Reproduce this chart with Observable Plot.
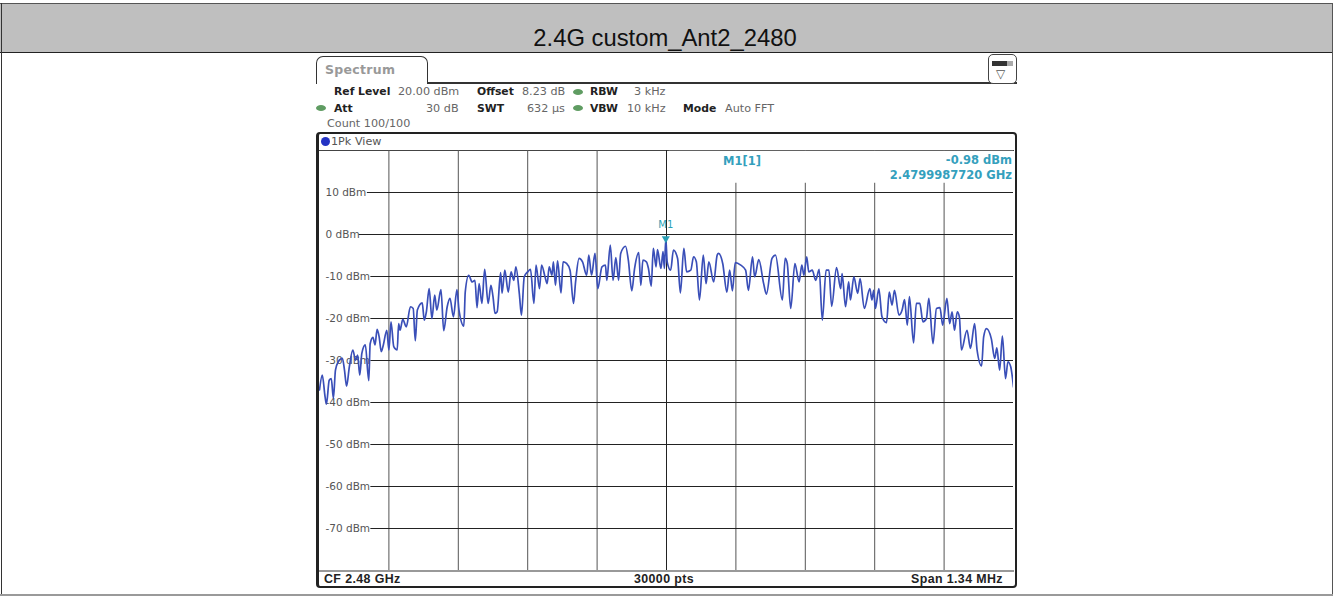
<!DOCTYPE html>
<html><head><meta charset="utf-8">
<script src="https://cdn.jsdelivr.net/npm/d3@7"></script>
<script src="https://cdn.jsdelivr.net/npm/@observablehq/plot@0.6"></script>
<style>
html,body{margin:0;padding:0;background:#fff;overflow:hidden}
#page{position:relative;width:1335px;height:596px;overflow:hidden;font-family:"DejaVu Sans",sans-serif}
#page div{position:absolute;white-space:nowrap;box-sizing:border-box}
#page svg{position:absolute;left:0;top:0;background:transparent}
.t{font-size:11.2px;line-height:14px;color:#666}
.b{font-weight:bold;color:#222;font-size:10.8px}
.dot{width:10px;height:6px;border-radius:50%;background:#5f9c62}
.m{font-size:11.5px;font-weight:bold;line-height:14px;color:#34a0bd}
.f{font-family:"Liberation Sans",sans-serif;font-weight:bold;font-size:12.4px;line-height:14px;color:#222;letter-spacing:.4px}
</style></head>
<body><div id="page"></div>
<script>
// Grid divisions run 0..10 across the 1.34 MHz span; levels are in dBm.
const traceDiv = [0,.04,.08,.10,.14,.17,.20,.23,.27,.33,.36,.39,.43,.48,.52,.55,.58,.61,.66,.71,.73,.77,.80,.83,.86,.89,.92,.97,1.00,1.03,1.07,1.12,1.14,1.16,1.20,1.25,1.31,1.35,1.38,1.41,1.48,1.51,1.54,1.58,1.62,1.66,1.69,1.75,1.79,1.84,1.88,1.93,1.98,2.01,2.08,2.10,2.15,2.20,2.24,2.27,2.30,2.34,2.38,2.43,2.47,2.50,2.53,2.56,2.61,2.63,2.67,2.72,2.76,2.80,2.83,2.88,2.91,2.95,3.00,3.04,3.09,3.12,3.17,3.20,3.25,3.28,3.31,3.35,3.37,3.40,3.43,3.48,3.51,3.56,3.61,3.66,3.69,3.74,3.79,3.85,3.88,3.92,3.97,4.01,4.07,4.12,4.14,4.19,4.23,4.27,4.31,4.34,4.41,4.45,4.50,4.54,4.60,4.63,4.66,4.71,4.74,4.78,4.81,4.85,4.87,4.92,4.95,4.97,4.99,5.01,5.06,5.10,5.16,5.20,5.25,5.29,5.35,5.39,5.43,5.475,5.53,5.57,5.61,5.68,5.73,5.75,5.81,5.87,5.91,5.95,5.99,6.07,6.14,6.18,6.24,6.27,6.33,6.40,6.44,6.52,6.57,6.67,6.71,6.74,6.79,6.85,6.91,6.95,6.98,7.02,7.05,7.10,7.15,7.20,7.245,7.30,7.34,7.38,7.45,7.51,7.53,7.58,7.625,7.65,7.70,7.755,7.79,7.85,7.93,7.96,7.985,8.01,8.06,8.105,8.17,8.21,8.25,8.285,8.35,8.395,8.43,8.47,8.50,8.56,8.60,8.65,8.695,8.745,8.78,8.84,8.89,8.94,8.98,9.04,9.08,9.115,9.15,9.19,9.22,9.25,9.33,9.38,9.44,9.475,9.54,9.57,9.61,9.68,9.73,9.76,9.80,9.84,9.885,9.92,9.96,10];
const traceDb = [-37,-33.5,-38.6,-40.4,-34.7,-34.3,-39,-32.3,-30.3,-29.5,-32.3,-36.1,-31.5,-27.5,-29.9,-28.7,-33.5,-28.3,-26.3,-34.8,-26,-24.5,-26.3,-22.6,-24.4,-27.9,-26.3,-22.8,-27.5,-20.8,-26.7,-27.5,-21.2,-22.8,-20.2,-22,-17.2,-17.6,-25.3,-18,-16.3,-20.4,-18.4,-12.9,-20,-14.4,-18,-13.1,-22.9,-17.2,-15.2,-19.6,-13.1,-18,-21.8,-13.7,-9.7,-11.3,-10.9,-17.4,-11.7,-16.4,-8.3,-16.4,-12.1,-14.8,-18.8,-18.4,-9.1,-14,-8.5,-13.7,-8.9,-10.9,-7.7,-14.2,-19.2,-10.1,-8.9,-8.3,-16.4,-7.3,-12.9,-7.3,-10.1,-11.7,-7.7,-9.7,-6.5,-12.1,-6.3,-13.9,-6.5,-6.9,-8.5,-16.4,-11.3,-5.7,-6.5,-9.7,-4.9,-9.7,-4.5,-12.9,-7.7,-7.3,-10.9,-2.5,-10.9,-5.5,-10.9,-4.5,-2.8,-6.1,-13.4,-8.1,-4.3,-12.1,-6.1,-6.5,-8.1,-12.3,-3.3,-7.7,-3.6,-8.1,-4.1,-8.1,-0.98,-6.5,-8.5,-3.7,-5.7,-13.9,-3.3,-8.9,-8.5,-5.3,-6.5,-15.6,-4.9,-11.7,-6.5,-11.3,-4.9,-4.5,-6.9,-13.7,-8.5,-13.4,-6.7,-7.3,-8.5,-13.3,-5.3,-10.1,-6,-11.7,-14.2,-5.7,-4.9,-15.6,-5.7,-6.9,-17.6,-6.9,-11.3,-7.3,-9.7,-5.3,-8.9,-8.5,-10.9,-8.3,-20.4,-8.5,-8.5,-17.1,-7.9,-12.9,-9.3,-17.2,-11.3,-15.6,-10.1,-14,-10.5,-17.6,-12.9,-15.6,-13.3,-17.6,-12.9,-19.6,-21,-13.7,-16.8,-13.3,-19.2,-18,-15.5,-21.6,-14.8,-25.8,-16.4,-16.4,-20.8,-20,-15.2,-26,-17.6,-17.4,-21.6,-15.2,-21.2,-18.4,-22.8,-18.4,-19.6,-27.5,-22.8,-27.1,-21.2,-27.5,-31.3,-24.4,-22.4,-24.8,-29.5,-27,-32.3,-24.2,-34.3,-30.3,-31.5,-36.3];
const levelTicks = [10,0,-10,-20,-30,-40,-50,-60,-70];
const levelRuleStart = [.69,.57,.74,.74,.74,.74,.74,.74,.74];
const divisionTicks = [1,2,3,4,5,6,7,8,9];
const markerDiv = [4.99];
const markerDb = [-0.98];
const readoutBox = [{x1:5.04,x2:10,y1:12.2,y2:19.8}];
const titleText = "2.4G custom_Ant2_2480";

const page = document.getElementById("page");
function box(css,cls,txt){const d=document.createElement("div");d.style.cssText=css;if(cls)d.className=cls;if(txt)d.textContent=txt;page.appendChild(d);return d;}

// sheet
box("left:0;top:3px;width:1333px;height:50px;background:#bfbfbf;border-top:1.5px solid #555;border-bottom:1.5px solid #222");
box("left:1px;top:3px;width:1px;height:593px;background:#333");
box("left:1332px;top:3px;width:1px;height:593px;background:#555");
box("left:0;top:594px;width:1333px;height:2px;background:#9a9a9a");
box("left:0;width:1330px;top:24px;text-align:center;font:23.8px/28px 'Liberation Sans',sans-serif;color:#111",null,titleText);

// instrument tab
box("left:316px;top:56px;width:112px;height:28px;border:1.5px solid #333;border-bottom:none;border-radius:7px 7px 0 0;background:#fff");
box("left:428px;top:82px;width:589px;height:1.5px;background:#333");
box("left:325px;top:62px;font-size:12.5px;line-height:16px;color:#999;font-weight:bold;letter-spacing:.3px",null,"Spectrum");
box("left:988px;top:54px;width:29px;height:30px;border:1.5px solid #444;border-radius:5px;background:#fff");
box("left:992px;top:61px;width:21px;height:5px;background:linear-gradient(90deg,#333 0 70%,#aaa 70%)");
box("left:996px;top:68px;font-size:12px;line-height:12px;color:#555",null,"▽");

// setting rows
const rows=[
 ["left:334px;top:85px","t b","Ref Level"],["left:398px;top:85px","t","20.00 dBm"],
 ["left:477px;top:85px","t b","Offset"],["left:522px;top:85px","t","8.23 dB"],
 ["left:590px;top:85px","t b","RBW"],["left:634px;top:85px","t","3 kHz"],
 ["left:334px;top:102px","t b","Att"],["left:426px;top:102px","t","30 dB"],
 ["left:477px;top:102px","t b","SWT"],["left:527px;top:102px","t","632 µs"],
 ["left:590px;top:102px","t b","VBW"],["left:627px;top:102px","t","10 kHz"],
 ["left:683px;top:102px","t b","Mode"],["left:725px;top:102px","t","Auto FFT"],
 ["left:327px;top:117px","t","Count 100/100"]];
rows.forEach(r=>box(r[0],r[1],r[2]));
[["316px","105px"],["573px","89px"],["573px","105px"]].forEach(p=>box(`left:${p[0]};top:${p[1]}`,"dot"));

// diagram frame
box("left:316px;top:132px;width:701px;height:456px;border:2px solid #222;border-left-width:3px;border-radius:4px;background:#fff");
box("left:319px;top:150px;width:695px;height:1px;background:#444");
box("left:321px;top:137px;width:9px;height:9px;border-radius:50%;background:#2433c4");
box("left:331px;top:135px;color:#555","t","1Pk View");
box("left:319px;top:570px;width:695px;height:2px;background:#999");
box("left:324px;top:572px","f","CF 2.48 GHz");
box("left:634px;top:572px","f","30000 pts");
box("left:911px;top:572px","f","Span 1.34 MHz");

const rowsTrace = traceDiv.map((d,i)=>({d,db:traceDb[i]}));
const rowsLevel = levelTicks.map((db,i)=>({db,start:levelRuleStart[i]}));
const chart = Plot.plot({
  width:1335,height:596,
  marginLeft:319,marginRight:322,marginTop:150,marginBottom:26,
  x:{domain:[0,10],axis:null},
  y:{domain:[-80,20],axis:null},
  marks:[
    Plot.ruleX(divisionTicks,{x:d=>d,stroke:"#555",strokeWidth:1}),
    Plot.ruleY(rowsLevel,{y:"db",x1:"start",x2:()=>10,stroke:"#222",strokeWidth:1}),
    Plot.rect(readoutBox,{x1:"x1",x2:"x2",y1:"y1",y2:"y2",fill:"#fff"}),
    Plot.ruleX([5],{x:d=>d,stroke:"#222",strokeWidth:1}),
    Plot.text(levelTicks,{x:()=>0,y:d=>d,text:d=>`${d} dBm`,textAnchor:"start",dx:6,fontSize:10.5,fontFamily:"DejaVu Sans",fill:"#555"}),
    Plot.line(rowsTrace,{x:"d",y:"db",stroke:"#3a4fb8",strokeWidth:1.7,strokeLinejoin:"round",curve:"monotone-x",clip:true}),
    Plot.dot(markerDiv.map((d,i)=>({d,db:markerDb[i]})),{x:"d",y:"db",symbol:"triangle",r:3,fill:"#2a9fb5",rotate:180}),
    Plot.text(markerDiv,{x:d=>d,y:()=>markerDb[0],text:()=>"M1",dy:-14,fontSize:10,fontFamily:"DejaVu Sans",fill:"#2a9fb5"})
  ],
  style:{background:"transparent"}
});
page.appendChild(chart);
[["left:723px;top:154px","m","M1[1]"],["right:323px;top:153px","m","-0.98 dBm"],["right:323px;top:168px","m","2.4799987720 GHz"]].forEach(r=>box(r[0],r[1],r[2]));
</script></body></html>
